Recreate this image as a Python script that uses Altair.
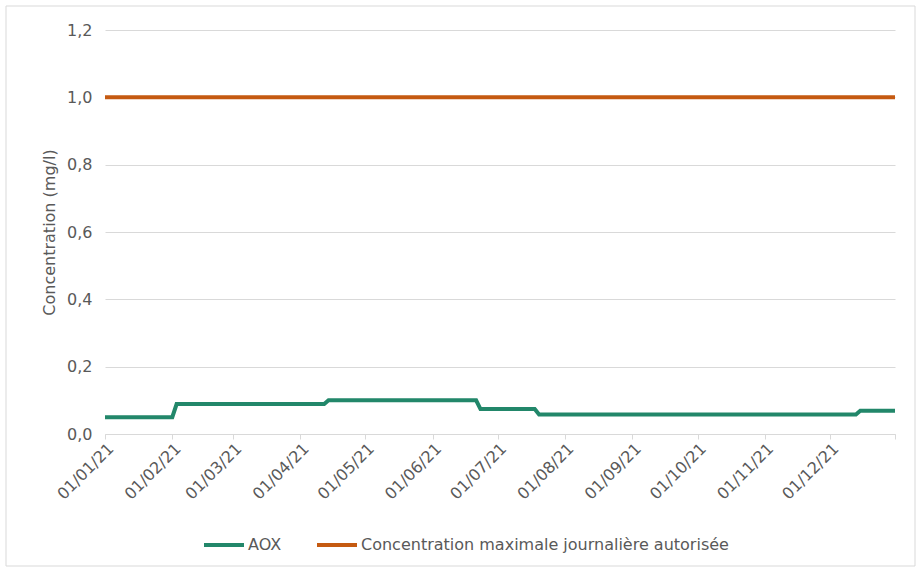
import altair as alt
import pandas as pd

# AOX step series (breakpoints)
aox_dates = ["2021-01-01", "2021-02-01", "2021-02-03", "2021-04-12", "2021-04-14",
             "2021-06-21", "2021-06-23", "2021-07-18", "2021-07-20", "2021-12-13",
             "2021-12-15", "2021-12-31"]
aox_values = [0.05, 0.05, 0.089, 0.089, 0.10, 0.10, 0.074, 0.074, 0.058, 0.058, 0.069, 0.069]

limit_dates = ["2021-01-01", "2021-12-31"]
limit_values = [1.0, 1.0]

series_names = ["AOX", "Concentration maximale journalière autorisée"]
series_colors = ["#22876A", "#C55A11"]

tick_dates = ["2021-01-01", "2021-02-01", "2021-03-01", "2021-04-01", "2021-05-01",
              "2021-06-01", "2021-07-01", "2021-08-01", "2021-09-01", "2021-10-01",
              "2021-11-01", "2021-12-01", "2021-12-31"]
y_ticks = [0.0, 0.2, 0.4, 0.6, 0.8, 1.0, 1.2]

df = pd.concat([
    pd.DataFrame({"date": aox_dates, "value": aox_values, "serie": series_names[0]}),
    pd.DataFrame({"date": limit_dates, "value": limit_values, "serie": series_names[1]}),
])

FONT = "DejaVu Sans"
FS = 16
TXT = "#595959"
W, H = 790, 404

def dt(s):
    y, m, d = map(int, s.split("-"))
    return alt.DateTime(year=y, month=m, date=d, utc=True)

frame = alt.Chart(pd.DataFrame({"k": [0]})).mark_rect(
    fill=None, stroke="#d9d9d9", strokeWidth=1, clip=False
).encode(
    x=alt.value(-99), x2=alt.value(810), y=alt.value(-24), y2=alt.value(536)
)

lines = alt.Chart(df).mark_line(strokeWidth=4, clip=False).encode(
    x=alt.X("date:T",
            scale=alt.Scale(type="utc", domain=[dt(tick_dates[0]), dt(tick_dates[-1])]),
            axis=alt.Axis(
                title=None,
                values=[dt(s) for s in tick_dates],
                labelExpr="datum.index >= 1 ? '' : utcFormat(datum.value, '%d/%m/%y')",
                labelAngle=-45, labelAlign="right", labelBaseline="top",
                labelFont=FONT, labelFontSize=FS, labelColor=TXT,
                domainColor="#d9d9d9", domainWidth=1,
                tickColor="#d9d9d9", tickSize=5, tickWidth=1,
                grid=False, labelPadding=1, labelOverlap=False,
            )),
    y=alt.Y("value:Q",
            scale=alt.Scale(domain=[0, 1.2], nice=False),
            axis=alt.Axis(
                title="Concentration (mg/l)",
                values=y_ticks,
                labelExpr="replace(format(datum.value, '.1f'), '.', ',')",
                labelFont=FONT, labelFontSize=FS, labelColor=TXT,
                labelPadding=13,
                titleFont=FONT, titleFontSize=FS, titleFontWeight="normal",
                titleColor=TXT, titlePadding=9,
                domain=False, ticks=False,
                grid=True, gridColor="#d9d9d9", gridWidth=1,
            )),
    color=alt.Color("serie:N",
                    scale=alt.Scale(domain=series_names, range=series_colors),
                    sort=series_names,
                    legend=alt.Legend(
                        title=None, orient="none", direction="horizontal",
                        legendX=97, legendY=493,
                        symbolType="stroke", symbolStrokeWidth=4, symbolSize=1600,
                        labelFont=FONT, labelFontSize=FS, labelColor=TXT,
                        labelLimit=0, columnPadding=27, labelOffset=2,
                    )),
    order=alt.Order("date:T"),
)

chart = alt.layer(frame, lines).properties(
    width=W, height=H,
    autosize=alt.AutoSizeParams(type="none"),
    padding={"left": 105, "top": 30, "right": 26, "bottom": 137},
).configure(background="white").configure_view(stroke=None)

chart.save("out.html", embed_options={"renderer": "svg", "actions": False})
